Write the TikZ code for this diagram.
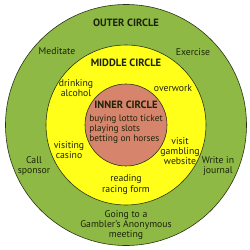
\documentclass[tikz,border=0pt]{standalone}
\usepackage{fontspec}
\setsansfont{PT Sans}
\definecolor{ringouter}{RGB}{141,185,68}
\definecolor{ringmiddle}{RGB}{255,255,26}
\definecolor{ringinner}{RGB}{214,132,108}
\definecolor{ringedge}{RGB}{40,50,20}
\definecolor{ringtext}{RGB}{30,35,10}
\tikzset{
  ring/.style={draw=ringedge, line width=0.5pt},
  item/.style={align=center, text=ringtext, inner sep=0pt,
    font=\sffamily\fontsize{8.3}{8.7}\selectfont},
  heading/.style={item, font=\sffamily\bfseries\fontsize{9}{9}\selectfont}
}
\begin{document}
\begin{tikzpicture}
  \useasboundingbox (-3.78,-3.75) rectangle (3.72,3.75);
  % the three rings
  \fill[ringouter, ring] (0,0) circle (3.615);
  \fill[ringmiddle, ring] (0,0) circle (2.4);
  \fill[ringinner, ring] (0,0) circle (1.23);

  % outer ring
  \node[heading] (outer) at (0,3.06) {OUTER CIRCLE};
  \node[item] (meditate) at (-2.07,2.22) {Meditate};
  \node[item] (exercise) at (2.01,2.19) {Exercise};
  \node[item] (sponsor) at (-2.76,-1.23) {Call\\sponsor};
  \node[item] (journal) at (2.76,-1.23) {Write in\\journal};
  \node[item] (meeting) at (0,-3.0) {Going to a\\Gambler's Anonymous\\meeting};

  % middle ring
  \node[heading] (middle) at (0,1.86) {MIDDLE CIRCLE};
  \node[item] (alcohol) at (-1.5,1.11) {drinking\\alcohol};
  \node[item] (overwork) at (1.41,1.11) {overwork};
  \node[item] (casino) at (-1.71,-0.75) {visiting\\casino};
  \node[item] (website) at (1.62,-0.78) {visit\\gambling\\website};
  \node[item] (racing) at (0,-1.785) {reading\\racing form};

  % inner ring
  \node[heading] (inner) at (0,0.6) {INNER CIRCLE};
  \node[item, align=left, font=\sffamily\fontsize{8}{8.7}\selectfont] (habits)
    at (0,-0.12) {buying lotto ticket\\playing slots\\betting on horses};
\end{tikzpicture}
\end{document}
